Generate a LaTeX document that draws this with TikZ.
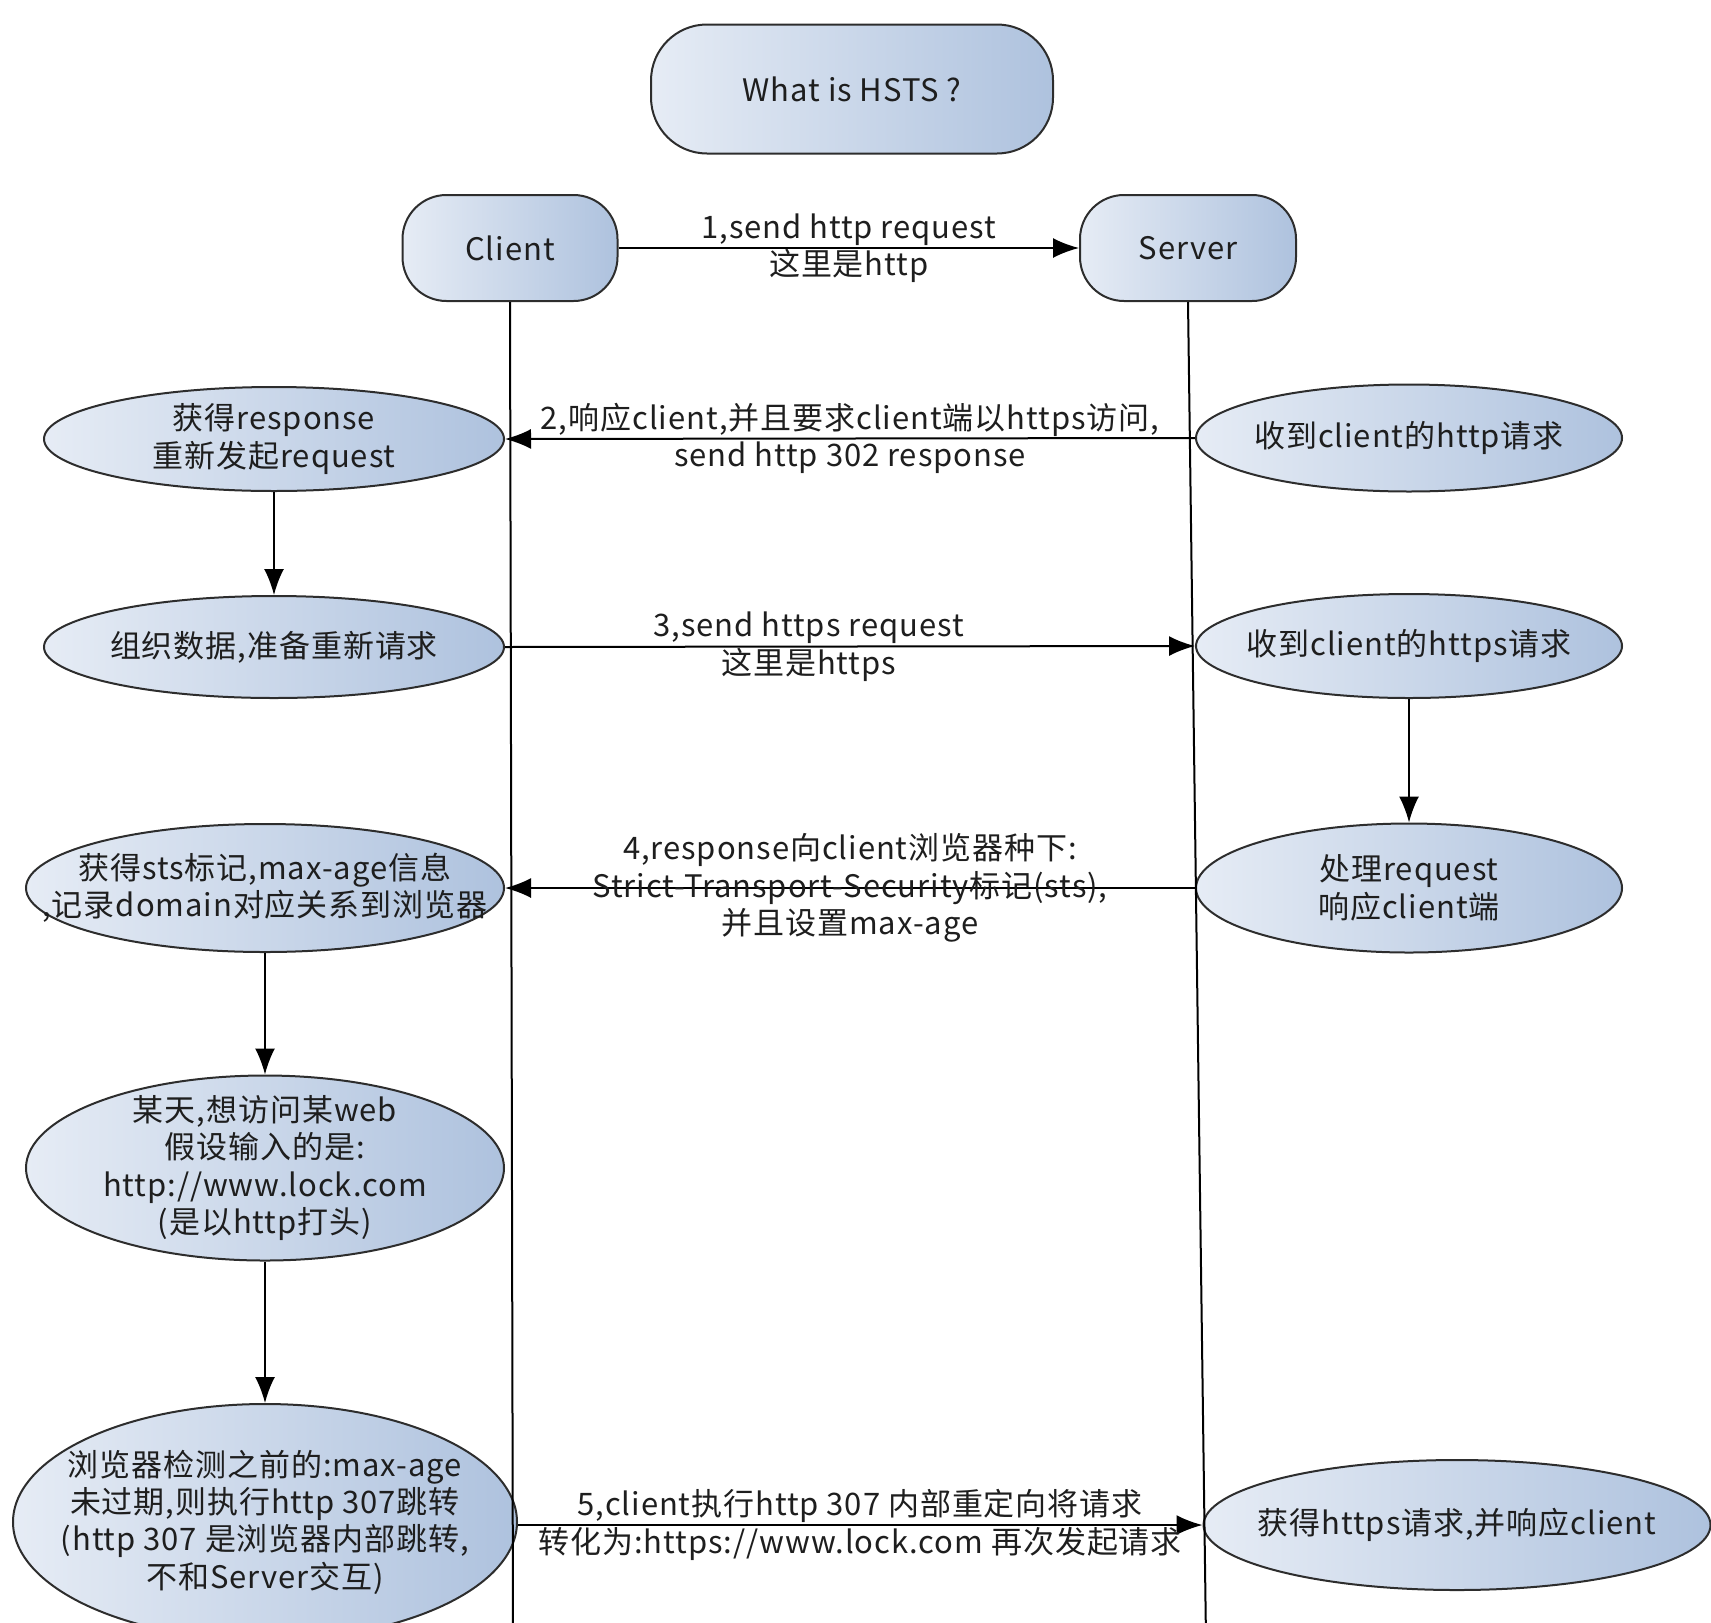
\documentclass[tikz,border=0pt]{standalone}
\usepackage{fontspec}
\setmainfont[LetterSpace=3]{Noto Sans CJK SC}
\usetikzlibrary{shapes.geometric, arrows.meta}
\definecolor{fillL}{RGB}{230,236,245}
\definecolor{fillR}{RGB}{174,194,222}
\definecolor{edge}{RGB}{45,45,45}
\definecolor{ink}{RGB}{30,30,30}

\begin{document}
\begin{tikzpicture}[x=0.5pt, y=-0.5pt, >={Latex[length=13pt,width=10pt]},
  font=\fontsize{15.5}{18.7}\selectfont,
  pill/.style={draw=edge, line width=1pt, left color=fillL, right color=fillR, text=ink, inner sep=0pt},
  oval/.style={ellipse, draw=edge, line width=1pt, left color=fillL, right color=fillR, inner sep=0pt},
  txt/.style={align=center, text=ink},
  msg/.style={->, line width=1pt},
  life/.style={line width=1pt}]
  \useasboundingbox (0,0) rectangle (1711,1622);

  % --- Title and actors ---
  \node[pill, minimum width=201pt, minimum height=64.5pt, rounded corners=28pt] (title) at (852,89) {What is HSTS ?};
  \node[pill, minimum width=107.5pt, minimum height=53pt, rounded corners=22pt] (client) at (510,248) {Client};
  \node[pill, minimum width=108pt, minimum height=53pt, rounded corners=22pt] (server) at (1188,248) {Server};

  % --- Client side ---
  \node[oval, minimum width=230pt, minimum height=52pt, label={[txt]center:{获得response\\重新发起request}}] (resp) at (274,439) {};
  \node[oval, minimum width=230pt, minimum height=51pt, label={[txt]center:{组织数据,准备重新请求}}] (prep) at (274,647) {};
  \node[oval, minimum width=239pt, minimum height=64pt, label={[txt]center:{获得sts标记,max-age信息\\,记录domain对应关系到浏览器}}] (sts) at (265,888) {};
  \node[oval, minimum width=239pt, minimum height=92.5pt, label={[txt]center:{某天,想访问某web\\假设输入的是:\\http://www.lock.com\\(是以http打头)}}] (visit) at (265,1168) {};
  \node[oval, minimum width=252pt, minimum height=118pt, label={[txt]center:{浏览器检测之前的:max-age\\未过期,则执行http 307跳转\\(http 307 是浏览器内部跳转,\\不和Server交互)}}] (check) at (265,1522) {};

  % --- Server side ---
  \node[oval, minimum width=213pt, minimum height=53.5pt, label={[txt]center:{收到client的http请求}}] (gothttp) at (1409,438) {};
  \node[oval, minimum width=213pt, minimum height=52pt, label={[txt]center:{收到client的https请求}}] (gothttps) at (1409,646) {};
  \node[oval, minimum width=213pt, minimum height=64.5pt, label={[txt]center:{处理request\\响应client端}}] (handle) at (1409,888) {};
  \node[oval, minimum width=253.5pt, minimum height=65pt, label={[txt]center:{获得https请求,并响应client}}] (reply) at (1457,1525) {};

  % --- Lifelines ---
  \coordinate (clientEnd) at (513,1640);
  \coordinate (serverEnd) at (1206,1640);
  \draw[life] (client.south) -- (clientEnd);
  \draw[life] (server.south) -- (serverEnd);

  % --- Messages ---
  \draw[msg] (client.east) -- (server.west) node[midway, txt] {1,send http request\\这里是http};
  \draw[msg] (gothttp.west) -- (resp.east) node[midway, txt] {2,响应client,并且要求client端以https访问,\\send http 302 response};
  \draw[msg] (prep.east) -- (gothttps.west) node[pos=0.44, txt] {3,send https request\\这里是https};
  \draw[msg] (handle.west) -- (sts.east) node[midway, txt] {4,response向client浏览器种下:\\Strict-Transport-Security标记(sts),\\并且设置max-age};
  \draw[msg] (check.east |- reply.west) -- (reply.west) node[midway, txt] {5,client执行http 307 内部重定向将请求\\转化为:https://www.lock.com 再次发起请求};

  % --- Local steps ---
  \draw[msg] (resp) -- (prep);
  \draw[msg] (sts) -- (visit);
  \draw[msg] (visit) -- (check);
  \draw[msg] (gothttps) -- (handle);
\end{tikzpicture}
\end{document}
